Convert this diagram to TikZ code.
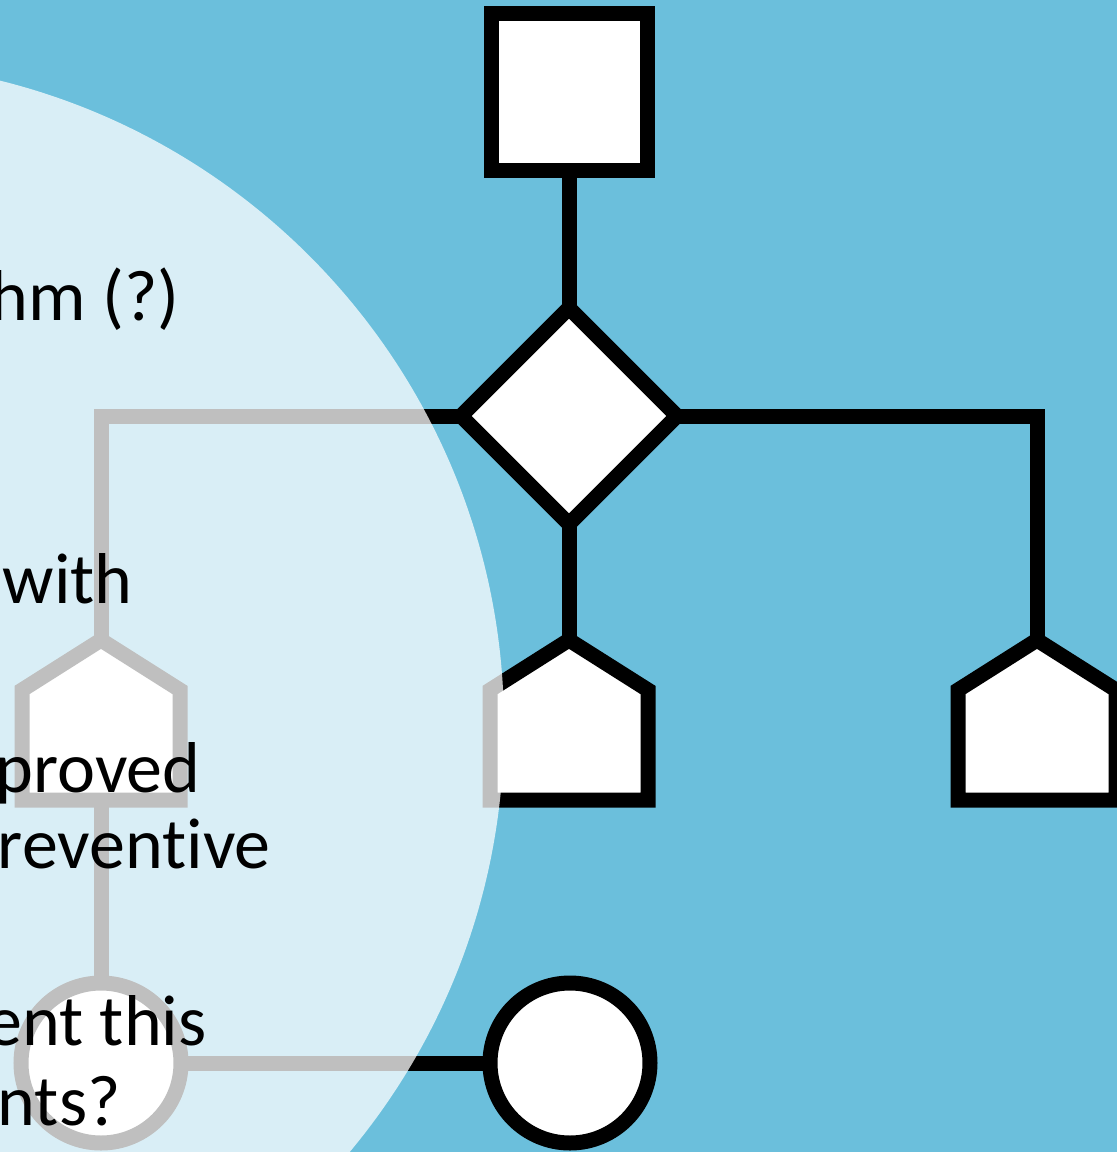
\documentclass[tikz,border=0pt]{standalone}
\usepackage{fontspec}
\setmainfont{Carlito}[Ligatures={NoCommon}]
\usetikzlibrary{shapes.geometric}
\definecolor{bgblue}{RGB}{107,191,220}
\pgfdeclarelayer{bg}
\pgfdeclarelayer{edges}
\pgfdeclarelayer{over}
\pgfsetlayers{bg,edges,main,over}
\tikzset{
  sym/.style={draw=black, fill=white, line width=7.5pt, inner sep=0pt, outer sep=0pt, line join=miter},
  conn/.style={draw=black, line width=7.5pt},
  txt/.style={anchor=base east, inner sep=0pt, font=\fontsize{36pt}{43pt}\selectfont, text=black},
}
\begin{document}
\begin{tikzpicture}[x=0.5pt,y=-0.5pt]
\useasboundingbox (0,0) rectangle (1117,1152);
\begin{pgfonlayer}{bg}
  \fill[bgblue] (0,0) rectangle (1117,1152);
\end{pgfonlayer}

% symbols
\node[sym, rectangle, minimum width=78pt, minimum height=78.5pt] (sq) at (569,91.5) {};
\node[sym, diamond, minimum width=108pt, minimum height=108pt] (dia) at (569,416) {};

\draw[sym] (22,690) -- (101,640) -- (180,690) -- (180,800) -- (22,800) -- cycle;
\coordinate (p1top) at (101,640);
\coordinate (p1bot) at (101,800);
\draw[sym] (490,690) -- (569,640) -- (648,690) -- (648,800) -- (490,800) -- cycle;
\coordinate (p2top) at (569,640);
\draw[sym] (958,690) -- (1037,640) -- (1116,690) -- (1116,800) -- (958,800) -- cycle;
\coordinate (p3top) at (1037,640);

\node[sym, circle, minimum size=80pt] (c1) at (101,1063) {};
\node[sym, circle, minimum size=80pt] (c2) at (570,1063) {};

% connectors
\begin{pgfonlayer}{edges}
  \draw[conn] (sq.south) -- (dia.north);
  \draw[conn] (dia.west) -| (p1top);
  \draw[conn] (dia.east) -| (p3top);
  \draw[conn] (dia.south) -- (p2top);
  \draw[conn] (p1bot) -- (c1.north);
  \draw[conn] (c1.east) -- (c2.west);
\end{pgfonlayer}

% translucent overlay and text
\begin{pgfonlayer}{over}
  \fill[white, opacity=0.75] (-161,726) circle [radius=332.5pt];
  \node[txt] (t1) at (180,320) {hm (?)};
  \node[txt] (t2) at (133,603) {with};
  \node[txt] (t3) at (201,792) {proved};
  \node[txt] (t4) at (271,868) {revent\kern0pt ive};
  \node[txt] (t5) at (207,1045) {ent this};
  \node[txt] (t6) at (121,1125) {nts?};
\end{pgfonlayer}
\end{tikzpicture}
\end{document}
